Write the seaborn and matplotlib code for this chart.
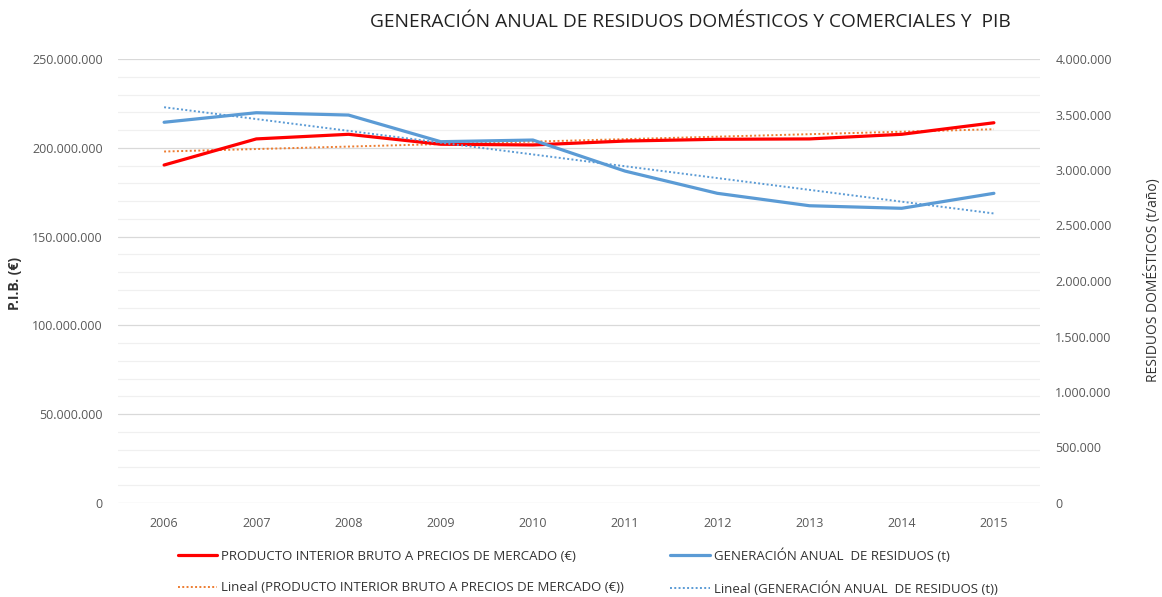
import numpy as np
import pandas as pd
import matplotlib
matplotlib.use("Agg")
import matplotlib.pyplot as plt
from matplotlib.ticker import FuncFormatter, MultipleLocator
from matplotlib.lines import Line2D
import seaborn as sns

years = [2006, 2007, 2008, 2009, 2010, 2011, 2012, 2013, 2014, 2015]
pib = [190.3e6, 205.0e6, 207.6e6, 202.0e6, 201.6e6, 203.8e6, 204.8e6, 205.0e6, 207.6e6, 214.1e6]
residuos = [3430000, 3516000, 3495000, 3255000, 3270000, 2990000, 2790000, 2678000, 2655000, 2790000]

lbl_pib = "PRODUCTO INTERIOR BRUTO A PRECIOS DE MERCADO (€)"
lbl_res = "GENERACIÓN ANUAL  DE RESIDUOS (t)"

df = pd.DataFrame({"year": years, "pib": pib, "res": residuos})

# linear trend lines (Excel "Lineal")
p1 = np.polyfit(df["year"], df["pib"], 1)
p2 = np.polyfit(df["year"], df["res"], 1)
df["pib_trend"] = np.polyval(p1, df["year"])
df["res_trend"] = np.polyval(p2, df["year"])

sns.set_style("white")
plt.rcParams["font.family"] = ["Open Sans", "DejaVu Sans"]

red = "#FF0000"
blue = "#5B9BD5"
orange = "#ED7D31"
grey = "#595959"
dots = (0, (1, 1.2))

fig = plt.figure(figsize=(11.62, 5.97), dpi=100)
ax = fig.add_axes([118 / 1162, 1 - 503 / 597, (1040 - 118) / 1162, (503 - 59) / 597])
ax2 = ax.twinx()

sns.lineplot(data=df, x="year", y="pib_trend", ax=ax, color=orange, lw=1.4, ls=dots, zorder=3)
sns.lineplot(data=df, x="year", y="pib", ax=ax, color=red, lw=2.3, zorder=4)
sns.lineplot(data=df, x="year", y="res_trend", ax=ax2, color=blue, lw=1.4, ls=dots, zorder=3)
sns.lineplot(data=df, x="year", y="res", ax=ax2, color=blue, lw=2.3, zorder=4)

ax.set_xlim(2005.5, 2015.5)
ax.set_ylim(0, 250e6)
ax2.set_ylim(0, 4e6)
ax.set_xticks(years)
ax.set_xticklabels([str(y) for y in years])
ax.yaxis.set_major_locator(MultipleLocator(50e6))
ax.yaxis.set_minor_locator(MultipleLocator(10e6))
ax2.yaxis.set_major_locator(MultipleLocator(500000))

fmt = FuncFormatter(lambda v, pos: f"{int(round(v)):,}".replace(",", "."))
ax.yaxis.set_major_formatter(fmt)
ax2.yaxis.set_major_formatter(fmt)

ax.grid(which="major", axis="y", color="#D9D9D9", lw=0.9)
ax.grid(which="minor", axis="y", color="#F0F0F0", lw=0.9)
ax.grid(False, axis="x")
ax2.grid(False)
ax.set_axisbelow(True)

for a in (ax, ax2):
    for s in a.spines.values():
        s.set_visible(False)
    a.tick_params(which="both", length=0, labelsize=9, labelcolor=grey)
ax.tick_params(axis="y", which="both", pad=11)
ax2.tick_params(axis="y", pad=11)
ax.tick_params(axis="x", pad=10)

ax.set_xlabel("")
ax.set_ylabel("")
ax2.set_ylabel("")
fig.text(15 / 1162, 1 - 284 / 597, "P.I.B. (€)", rotation=90, ha="center", va="center",
         fontsize=10, fontweight="bold", color="#333333")
fig.text(1152 / 1162, 1 - 280 / 597, "RESIDUOS DOMÉSTICOS (t/año)", rotation=90, ha="center", va="center",
         fontsize=10, color="#333333")

fig.text(690 / 1162, 1 - 22 / 597, "GENERACIÓN ANUAL DE RESIDUOS DOMÉSTICOS Y COMERCIALES Y  PIB",
         ha="center", va="center", fontsize=13.8, color="#222222")

handles = [
    Line2D([], [], color=red, lw=2.3),
    Line2D([], [], color=orange, lw=1.4, ls=dots),
    Line2D([], [], color=blue, lw=2.3),
    Line2D([], [], color=blue, lw=1.4, ls=dots),
]
labels = [lbl_pib, f"Lineal ({lbl_pib})", lbl_res, f"Lineal ({lbl_res})"]
fig.legend(handles, labels, ncol=2, loc="center left", bbox_to_anchor=(166 / 1162, 1 - 572 / 597),
           frameon=False, fontsize=9.5, labelcolor="#333333", handlelength=3.0, handletextpad=0.3,
           columnspacing=3.5, labelspacing=1.4)

fig.savefig("out.png", dpi=100)
